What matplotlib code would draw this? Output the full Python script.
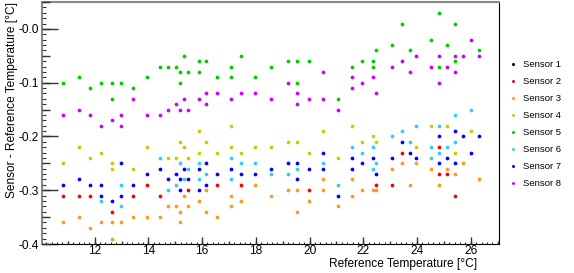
import matplotlib
matplotlib.use("Agg")
import matplotlib.pyplot as plt
from matplotlib.ticker import MultipleLocator, FuncFormatter

plt.rcParams['font.family'] = ['Liberation Sans', 'DejaVu Sans']

# Reference temperature [C] and sensor - reference [C]
# sensor 1 has no visible points (hidden / not drawn)
s1_temp = []
s1_diff = []

s2_temp = [10.84, 11.40, 11.83, 12.65, 13.41, 13.94, 14.44, 15.46, 16.55, 17.46,
           19.99, 22.47, 23.08, 23.44, 24.83, 24.83, 25.13, 25.42]
s2_diff = [-0.31, -0.31, -0.31, -0.34, -0.31, -0.29, -0.31, -0.30, -0.29, -0.29,
           -0.30, -0.29, -0.29, -0.23, -0.22, -0.27, -0.27, -0.31]

s3_temp = [10.84, 11.40, 11.83, 12.25, 12.65, 12.65, 12.98, 13.41, 13.94, 14.44,
           14.73, 15.01, 15.16, 15.16, 15.31, 15.46, 15.87, 16.14, 16.14, 16.55,
           17.07, 17.07, 17.46, 17.95, 18.58, 19.20, 19.54, 19.54, 19.99, 20.51,
           20.51, 21.04, 21.58, 21.58, 21.95, 22.36, 22.47, 23.08, 23.44, 23.75,
           23.95, 24.52, 24.83, 25.13, 25.42, 25.72, 26.31]
s3_diff = [-0.36, -0.35, -0.37, -0.36, -0.36, -0.39, -0.36, -0.35, -0.35, -0.35,
           -0.33, -0.33, -0.34, -0.36, -0.31, -0.33, -0.32, -0.30, -0.34, -0.35,
           -0.31, -0.33, -0.32, -0.29, -0.31, -0.30, -0.30, -0.34, -0.32, -0.28,
           -0.30, -0.33, -0.28, -0.31, -0.30, -0.30, -0.30, -0.26, -0.25, -0.29,
           -0.25, -0.26, -0.29, -0.26, -0.27, -0.25, -0.28]

s4_temp = [10.84, 11.40, 11.83, 12.25, 12.65, 12.65, 13.41, 13.94, 14.73, 15.01,
           15.16, 15.31, 15.46, 15.87, 15.87, 16.14, 16.55, 17.07, 17.07, 17.46,
           17.95, 18.58, 19.20, 19.54, 19.99, 20.51, 21.04, 21.58, 21.95, 22.36,
           22.47, 23.95, 24.52, 25.13, 25.42, 26.01]
s4_diff = [-0.25, -0.22, -0.24, -0.23, -0.25, -0.26, -0.26, -0.22, -0.24, -0.24,
           -0.21, -0.22, -0.24, -0.19, -0.23, -0.21, -0.23, -0.18, -0.22, -0.23,
           -0.22, -0.22, -0.21, -0.21, -0.23, -0.19, -0.24, -0.18, -0.21, -0.20,
           -0.21, -0.22, -0.18, -0.18, -0.23, -0.19]

s5_temp = [10.84, 11.40, 11.83, 12.25, 12.65, 12.65, 12.98, 13.41, 13.94, 14.44,
           14.73, 15.01, 15.16, 15.16, 15.31, 15.46, 15.87, 15.87, 16.14, 16.55,
           17.07, 17.07, 17.46, 17.95, 18.58, 19.20, 19.54, 19.54, 19.99, 21.04,
           21.58, 21.95, 22.36, 22.36, 22.47, 23.08, 23.44, 23.75, 24.52, 24.83,
           24.83, 25.13, 25.42, 25.42, 26.31]
s5_diff = [-0.10, -0.09, -0.11, -0.10, -0.10, -0.13, -0.10, -0.11, -0.09, -0.07,
           -0.07, -0.07, -0.08, -0.10, -0.05, -0.08, -0.06, -0.08, -0.06, -0.09,
           -0.07, -0.09, -0.05, -0.09, -0.07, -0.06, -0.06, -0.10, -0.06, -0.13,
           -0.07, -0.06, -0.06, -0.07, -0.04, -0.03, 0.01, -0.04, -0.02, 0.03,
           -0.07, -0.03, 0.01, -0.06, -0.04]

s6_temp = [12.25, 12.98, 12.98, 14.44, 14.73, 15.01, 15.16, 15.31, 15.46, 15.87,
           15.87, 16.14, 17.07, 17.07, 17.46, 17.95, 18.58, 19.20, 19.54, 20.51,
           21.04, 21.58, 21.95, 22.36, 22.36, 22.47, 23.08, 23.44, 23.75, 23.95,
           24.52, 24.52, 24.83, 24.83, 25.13, 25.42, 25.42, 26.01]
s6_diff = [-0.32, -0.29, -0.33, -0.24, -0.30, -0.29, -0.25, -0.28, -0.26, -0.25,
           -0.28, -0.27, -0.24, -0.28, -0.25, -0.25, -0.27, -0.27, -0.26, -0.25,
           -0.29, -0.22, -0.23, -0.22, -0.26, -0.25, -0.20, -0.19, -0.21, -0.18,
           -0.22, -0.24, -0.18, -0.23, -0.22, -0.16, -0.21, -0.15]

s7_temp = [10.84, 11.40, 11.83, 12.25, 12.25, 12.65, 12.98, 12.98, 13.41, 13.94,
           14.44, 14.73, 15.01, 15.16, 15.16, 15.31, 15.46, 15.87, 15.87, 16.14,
           16.14, 16.55, 17.07, 17.46, 17.95, 18.58, 19.20, 19.54, 19.54, 19.99,
           20.51, 20.51, 21.04, 21.58, 21.58, 21.95, 22.36, 22.47, 23.08, 23.44,
           23.75, 23.95, 24.83, 24.83, 25.13, 25.42, 25.42, 25.72, 26.01, 26.31]
s7_diff = [-0.29, -0.28, -0.29, -0.29, -0.31, -0.32, -0.25, -0.31, -0.29, -0.27,
           -0.26, -0.28, -0.27, -0.28, -0.30, -0.26, -0.28, -0.26, -0.30, -0.25,
           -0.29, -0.27, -0.26, -0.27, -0.27, -0.26, -0.25, -0.25, -0.28, -0.26,
           -0.23, -0.26, -0.31, -0.24, -0.26, -0.25, -0.24, -0.27, -0.24, -0.21,
           -0.23, -0.24, -0.20, -0.25, -0.24, -0.19, -0.25, -0.20, -0.23, -0.20]

s8_temp = [10.84, 11.40, 11.83, 12.25, 12.65, 12.98, 12.98, 13.41, 13.94, 14.44,
           14.73, 15.01, 15.16, 15.31, 15.46, 15.87, 16.14, 16.14, 16.55, 17.07,
           17.46, 17.95, 18.58, 19.20, 19.54, 19.54, 19.99, 20.51, 20.51, 21.04,
           21.58, 21.58, 21.95, 22.36, 22.47, 23.08, 23.44, 23.75, 23.95, 24.52,
           24.83, 24.83, 25.13, 25.42, 25.42, 25.72, 26.01, 26.31]
s8_diff = [-0.16, -0.15, -0.16, -0.18, -0.17, -0.16, -0.18, -0.13, -0.16, -0.16,
           -0.15, -0.14, -0.15, -0.13, -0.15, -0.13, -0.12, -0.14, -0.12, -0.13,
           -0.12, -0.12, -0.13, -0.10, -0.12, -0.14, -0.13, -0.08, -0.13, -0.15,
           -0.09, -0.11, -0.10, -0.09, -0.12, -0.07, -0.06, -0.08, -0.05, -0.07,
           -0.05, -0.10, -0.07, -0.05, -0.08, -0.05, -0.02, -0.05]

labels = ['Sensor 1', 'Sensor 2', 'Sensor 3', 'Sensor 4',
          'Sensor 5', 'Sensor 6', 'Sensor 7', 'Sensor 8']
colors = ['#000000', '#ff0000', '#ff9922', '#cccc00',
          '#00cc00', '#33ccff', '#0000ff', '#cc00ff']
temps = [s1_temp, s2_temp, s3_temp, s4_temp, s5_temp, s6_temp, s7_temp, s8_temp]
diffs = [s1_diff, s2_diff, s3_diff, s4_diff, s5_diff, s6_diff, s7_diff, s8_diff]

fig = plt.figure(figsize=(5.74, 2.73), dpi=100)
rect = [42/574, 29/273, 457/574, 242/273]
ax = fig.add_axes(rect)

for t, d, lab, c in zip(temps, diffs, labels, colors):
    ax.plot(t, d, ls='none', marker='o', ms=2.7, mew=0, color=c, label=lab)

xlim = (10.04, 27.05)
ylim = (-0.4, 0.05)
ax.set_xlim(*xlim)
ax.set_ylim(*ylim)

ax.xaxis.set_major_locator(MultipleLocator(2))
ax.xaxis.set_minor_locator(MultipleLocator(0.2))
ax.yaxis.set_major_locator(MultipleLocator(0.1))
ax.yaxis.set_minor_locator(MultipleLocator(0.01))
ax.yaxis.set_major_formatter(FuncFormatter(lambda v, p: '-%.1f' % abs(v)))

ax.tick_params(axis='both', which='both', direction='in', top=False, right=False,
               labelsize=8.6, colors='#333333', labelcolor='black')
ax.tick_params(axis='y', which='major', length=11.3, width=1.0, pad=2)
ax.tick_params(axis='y', which='minor', length=2.9, width=0.8)
ax.tick_params(axis='x', which='major', length=5, width=1.0, pad=0.8)
ax.tick_params(axis='x', which='minor', length=1.5, width=0.8)

ax.spines['left'].set_color('#707070')
ax.spines['left'].set_linewidth(1.2)
ax.spines['top'].set_color('#888888')
ax.spines['top'].set_linewidth(1.5)
ax.spines['right'].set_color('black')
ax.spines['bottom'].set_color('black')

# medium ticks (ROOT style third tick level)
ax2 = fig.add_axes(rect, frameon=False)
ax2.set_xlim(*xlim)
ax2.set_ylim(*ylim)
ax2.xaxis.set_major_locator(MultipleLocator(1))
ax2.yaxis.set_major_locator(MultipleLocator(0.05))
ax2.tick_params(axis='both', direction='in', labelbottom=False, labelleft=False,
                colors='#333333')
ax2.tick_params(axis='y', length=5.8, width=1.0)
ax2.tick_params(axis='x', length=2.5, width=1.0)
ax2.patch.set_visible(False)

fig.text(12/574, 1 - 2/273, 'Sensor - Reference Temperature [°C]', rotation=90,
         ha='center', va='top', fontsize=8.6)
fig.text(477/574, 1 - 264.5/273, 'Reference Temperature [°C]',
         ha='right', va='center', fontsize=8.6)

ax.legend(loc='center left', bbox_to_anchor=(505/574, 1 - 124/273),
          bbox_transform=fig.transFigure, frameon=False, fontsize=6.8,
          handlelength=0.6, handletextpad=0.8, labelspacing=0.85,
          markerscale=0.8, borderpad=0)

fig.savefig('out.png', dpi=100)
